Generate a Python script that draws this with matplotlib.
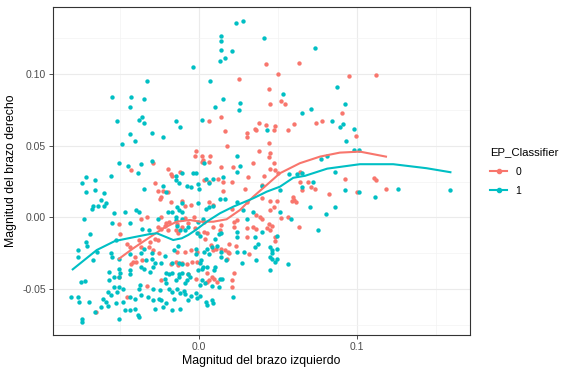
import numpy as np
import matplotlib
matplotlib.use("Agg")
import matplotlib.pyplot as plt
from matplotlib.lines import Line2D
from matplotlib.ticker import MultipleLocator

plt.rcParams['font.family'] = ['Liberation Sans', 'DejaVu Sans']

# puntos clase 0 (rojo): (brazo izquierdo, brazo derecho)
pts_0 = [
    (0.042, 0.107), (0.050, 0.100), (0.025, 0.0965), (0.044, 0.090), (0.045, 0.079),
    (0.014, 0.070), (0.006, 0.067), (0.016, 0.060), (0.030, 0.059), (0.030, 0.056),
    (0.035, 0.062), (0.036, 0.061), (0.038, 0.066), (0.048, 0.064), (0.047, 0.061),
    (0.0175, 0.050), (-0.002, 0.046), (-0.003, 0.043), (0.002, 0.043), (0.0025, 0.040),
    (0.0015, 0.0385), (0.007, 0.043), (0.038, 0.046), (0.044, 0.052), (0.045, 0.045),
    (0.014, 0.035), (0.0215, 0.035), (0.034, 0.038), (0.041, 0.029), (0.045, 0.034),
    (0.050, 0.031), (0.031, 0.028), (0.012, 0.027), (0.006, 0.0245), (0.021, 0.025),
    (-0.012, 0.032), (-0.020, 0.034), (-0.018, 0.0305), (-0.017, 0.029), (-0.028, 0.024),
    (-0.043, 0.033), (-0.029, 0.038), (0.063, 0.108), (0.095, 0.099), (0.112, 0.0995),
    (0.052, 0.081), (0.054, 0.079), (0.060, 0.0655), (0.074, 0.066), (0.0775, 0.067),
    (0.056, 0.061), (0.042, 0.0645), (0.0905, 0.073), (0.099, 0.057), (0.044, 0.042),
    (0.064, 0.0315), (0.092, 0.0266), (0.1106, 0.0277), (0.1117, 0.0261), (0.064, 0.0245),
    (0.069, 0.025), (0.118, 0.0196), (0.100, 0.018), (0.082, 0.016), (0.071, 0.021),
    (0.073, 0.020), (0.065, 0.019), (0.0595, 0.014), (0.060, 0.012), (0.061, 0.0107),
    (0.059, 0.0114), (0.040, 0.0135), (0.0446, 0.0114), (0.049, 0.0114), (0.047, 0.0074),
    (0.052, -0.0003), (0.056, 0.0002), (0.063, -0.0066), (0.0386, 0.000), (0.0395, -0.0014),
    (0.044, -0.005), (0.045, -0.009), (0.043, -0.0077), (0.048, -0.0168), (-0.026, 0.0186),
    (-0.023, 0.0186), (-0.020, 0.0177), (-0.024, 0.0144), (-0.025, 0.0128), (-0.018, 0.011),
    (-0.037, -0.0014), (-0.033, 0.000), (-0.051, -0.0047), (-0.024, 0.000), (-0.021, -0.004),
    (-0.019, -0.003), (-0.011, 0.0116), (0.006, 0.0385), (0.047, 0.038), (0.048, 0.033),
    (0.015, 0.0245), (0.003, 0.026), (0.015, 0.0186), (0.029, 0.020), (0.040, 0.0226),
    (0.006, 0.011), (-0.009, 0.008), (-0.005, 0.0086), (0.009, 0.0088), (0.021, 0.0056),
    (0.030, 0.0105), (0.036, 0.0014), (0.045, 0.005), (-0.009, -0.0007), (-0.0035, 0.000),
    (0.003, -0.003), (0.024, -0.0017), (-0.050, -0.012), (-0.046, -0.019), (-0.044, -0.021),
    (-0.037, -0.021), (-0.032, -0.021), (-0.029, -0.023), (-0.0255, -0.025), (-0.0405, -0.0276),
    (-0.042, -0.0315), (-0.043, -0.033), (-0.040, -0.031), (-0.036, -0.030), (-0.026, -0.0066),
    (-0.024, -0.008), (-0.022, -0.006), (-0.020, -0.009), (-0.0135, -0.011), (-0.015, -0.009),
    (-0.028, -0.015), (-0.026, -0.016), (-0.018, -0.033), (-0.0135, -0.0334), (-0.051, -0.042),
    (-0.033, -0.048), (-0.046, -0.056), (-0.0656, -0.066), (-0.024, -0.044), (-0.031, -0.0175),
    (-0.038, -0.016), (-0.014, -0.0047), (-0.011, -0.0066), (-0.007, -0.0042), (-0.0027, -0.0077),
    (-0.0006, -0.011), (0.003, -0.010), (0.005, -0.011), (0.0036, -0.015), (0.009, -0.007),
    (0.013, -0.009), (0.014, -0.0054), (0.022, -0.003), (0.022, -0.007), (0.030, -0.0077),
    (0.034, -0.007), (0.036, -0.008), (0.046, -0.006), (0.030, -0.0136), (0.019, -0.019),
    (0.023, -0.020), (0.014, -0.022), (0.016, -0.023), (0.018, -0.024), (0.019, -0.025),
    (0.0074, -0.0194), (0.0085, -0.023), (0.0104, -0.022), (0.048, -0.0136), (-0.014, -0.0245),
    (-0.009, -0.024), (-0.0054, -0.023), (-0.0016, -0.024), (0.0315, -0.026), (0.0177, -0.029),
    (-0.015, -0.031), (-0.011, -0.032), (-0.008, -0.033), (-0.0044, -0.031), (-0.0016, -0.031),
    (0.005, -0.039), (0.008, -0.0415), (0.006, -0.044), (0.0047, -0.045), (0.011, -0.045),
    (0.0095, -0.043), (-0.0023, -0.043), (0.022, -0.039), (0.021, -0.044), (0.0205, -0.0485),
    (-0.007, -0.040),
]

# puntos clase 1 (turquesa)
pts_1 = [
    (0.023, 0.136), (0.028, 0.137), (0.014, 0.127), (0.014, 0.123), (0.014, 0.117),
    (0.016, 0.111), (0.013, 0.109), (0.021, 0.116), (0.041, 0.125), (-0.004, 0.105),
    (-0.033, 0.095), (0.007, 0.095), (-0.055, 0.084), (-0.043, 0.084), (-0.035, 0.083),
    (0.015, 0.083), (0.026, 0.080), (0.025, 0.075), (0.010, 0.077), (-0.044, 0.077),
    (-0.052, 0.067), (-0.038, 0.068), (-0.036, 0.070), (-0.035, 0.066), (-0.015, 0.067),
    (-0.012, 0.063), (0.002, 0.068), (-0.044, 0.058), (-0.030, 0.059), (-0.023, 0.056),
    (-0.041, 0.053), (-0.049, 0.051), (0.043, 0.061), (-0.051, 0.038), (-0.045, 0.036),
    (-0.037, 0.037), (-0.030, 0.039), (-0.039, 0.031), (-0.056, 0.029), (-0.004, 0.031),
    (-0.002, 0.031), (0.003, 0.038), (0.024, 0.043), (0.026, 0.036), (0.024, 0.032),
    (0.015, 0.028), (0.009, 0.027), (-0.072, 0.028), (-0.066, 0.026), (-0.074, 0.024),
    (-0.023, 0.022), (-0.008, 0.022), (-0.001, 0.023), (-0.015, 0.029), (-0.015, 0.026),
    (-0.013, 0.024), (0.073, 0.118), (0.087, 0.091), (0.053, 0.086), (0.092, 0.079),
    (0.065, 0.073), (0.071, 0.076), (0.084, 0.067), (0.089, 0.063), (0.091, 0.065),
    (0.098, 0.062), (0.093, 0.053), (0.098, 0.047), (0.101, 0.047), (0.077, 0.041),
    (0.081, 0.043), (0.086, 0.032), (0.057, 0.030), (0.062, 0.030), (0.072, 0.025),
    (0.040, 0.022), (0.159, 0.019), (0.126, 0.020), (0.101, 0.018), (0.092, 0.019),
    (0.111, 0.014), (0.065, 0.021), (0.051, 0.019), (0.070, 0.007), (0.086, 0.007),
    (0.080, 0.002), (0.051, 0.004), (0.058, -0.001), (0.075, -0.009), (0.040, -0.010),
    (0.049, -0.013), (0.045, -0.021), (0.046, -0.023), (0.049, -0.022), (0.045, -0.028),
    (0.046, -0.029), (0.049, -0.029), (0.048, -0.031), (0.045, -0.037), (0.056, -0.033),
    (-0.072, 0.018), (-0.066, 0.019), (-0.060, 0.017), (-0.062, 0.012), (-0.059, 0.010),
    (-0.060, 0.008), (-0.067, 0.008), (-0.064, 0.008), (-0.054, 0.003), (-0.047, 0.004),
    (-0.040, 0.005), (-0.038, 0.004), (-0.035, 0.020), (-0.021, 0.018), (-0.011, 0.031),
    (-0.020, 0.0035), (-0.017, 0.004), (-0.026, -0.001), (-0.073, -0.001), (-0.055, -0.004),
    (-0.044, -0.004), (-0.011, -0.001), (-0.015, 0.000), (-0.014, 0.007), (0.004, 0.027),
    (-0.005, 0.021), (0.000, 0.020), (0.006, 0.024), (0.065, 0.031), (0.013, 0.013),
    (0.016, 0.013), (0.024, 0.011), (-0.001, 0.010), (-0.011, 0.010), (-0.013, 0.005),
    (-0.011, 0.004), (0.004, 0.006), (0.006, 0.007), (0.009, 0.008), (0.028, 0.005),
    (0.034, 0.0035), (0.030, -0.001), (-0.015, -0.002), (0.0025, -0.001), (-0.069, -0.012),
    (-0.072, -0.017), (-0.071, -0.020), (-0.053, -0.016), (-0.036, -0.008), (-0.032, -0.009),
    (-0.077, -0.028), (-0.065, -0.0245), (-0.067, -0.030), (-0.056, -0.025), (-0.055, -0.028),
    (-0.051, -0.029), (-0.075, -0.045), (-0.0725, -0.0446), (-0.057, -0.038), (-0.054, -0.042),
    (-0.057, -0.044), (-0.051, -0.036), (-0.050, -0.039), (-0.051, -0.042), (-0.044, -0.037),
    (-0.044, -0.040), (-0.037, -0.035), (-0.035, -0.036), (-0.031, -0.038), (-0.029, -0.035),
    (-0.028, -0.032), (-0.024, -0.032), (-0.030, -0.025), (-0.030, -0.029), (-0.034, -0.030),
    (-0.044, -0.026), (-0.021, -0.039), (-0.019, -0.040), (-0.017, -0.039), (-0.017, -0.032),
    (-0.013, -0.032), (-0.022, -0.027), (-0.011, -0.039), (-0.054, -0.049), (-0.051, -0.049),
    (-0.048, -0.050), (-0.052, -0.052), (-0.058, -0.052), (-0.056, -0.054), (-0.061, -0.057),
    (-0.059, -0.059), (-0.058, -0.062), (-0.053, -0.060), (-0.048, -0.059), (-0.044, -0.056),
    (-0.041, -0.057), (-0.037, -0.054), (-0.038, -0.050), (-0.0375, -0.047), (-0.0325, -0.0555),
    (-0.029, -0.058), (-0.0255, -0.057), (-0.024, -0.058), (-0.025, -0.051), (-0.029, -0.050),
    (-0.019, -0.050), (-0.0175, -0.052), (-0.016, -0.057), (-0.021, -0.060), (-0.081, -0.0555),
    (-0.077, -0.056), (-0.076, -0.059), (-0.070, -0.059), (-0.062, -0.063), (-0.047, -0.065),
    (-0.044, -0.065), (-0.0405, -0.064), (-0.039, -0.068), (-0.038, -0.070), (-0.051, -0.071),
    (-0.028, -0.064), (-0.023, -0.063), (-0.017, -0.065), (-0.012, -0.064), (-0.074, -0.071),
    (-0.074, -0.073), (-0.021, -0.046), (-0.022, -0.043), (-0.013, -0.042), (-0.015, -0.044),
    (-0.037, -0.025), (-0.035, -0.022), (-0.0135, -0.020), (-0.016, -0.023), (-0.077, -0.023),
    (-0.066, -0.066), (-0.068, 0.006), (-0.014, -0.006), (-0.012, -0.009), (-0.009, -0.009),
    (-0.007, -0.007), (-0.001, -0.003), (-0.0015, -0.011), (0.0006, -0.013), (0.010, -0.015),
    (0.0125, -0.012), (0.014, -0.011), (0.024, -0.010), (0.024, -0.014), (0.035, -0.014),
    (0.037, -0.019), (0.035, -0.021), (0.046, -0.025), (0.036, -0.030), (0.027, -0.032),
    (0.024, -0.0245), (0.0285, -0.024), (0.014, -0.0245), (0.014, -0.028), (0.006, -0.026),
    (0.003, -0.024), (-0.002, -0.022), (-0.002, -0.026), (0.011, -0.020), (0.008, -0.021),
    (0.005, -0.022), (0.017, -0.030), (0.001, -0.030), (0.0004, -0.032), (0.0025, -0.035),
    (0.005, -0.035), (-0.0006, -0.037), (0.002, -0.036), (0.010, -0.035), (0.0095, -0.037),
    (-0.011, -0.033), (-0.013, -0.040), (-0.007, -0.040), (-0.006, -0.0415), (-0.008, -0.044),
    (-0.009, -0.046), (0.0015, -0.044), (0.0036, -0.046), (0.013, -0.043), (0.0145, -0.0431),
    (0.008, -0.048), (0.0125, -0.0485), (0.0004, -0.047), (-0.014, -0.050), (-0.012, -0.053),
    (-0.0095, -0.0515), (-0.009, -0.0536), (-0.005, -0.055), (-0.007, -0.058), (-0.002, -0.053),
    (-0.0016, -0.0566), (0.0004, -0.055), (0.004, -0.059), (0.005, -0.061), (0.008, -0.058),
    (0.0085, -0.060), (0.0215, -0.056),
]

# curvas suavizadas (loess)
smooth_0_x = [-0.0508, -0.0418, -0.0333, -0.0228, -0.0143, -0.0059, 0.0004, 0.0089,
              0.0173, 0.0258, 0.0342, 0.0427, 0.0511, 0.0637, 0.0764, 0.089, 0.1017, 0.1182]
smooth_0_y = [-0.029, -0.0217, -0.0154, -0.0077, -0.0031, -0.0019, -0.0031, -0.0031,
              -0.0014, 0.0051, 0.0144, 0.0226, 0.0308, 0.0378, 0.0424, 0.0452, 0.0459, 0.0424]
smooth_1_x = [-0.0801, -0.0649, -0.0534, -0.0418, -0.0312, -0.0268, -0.0206, -0.0165,
              -0.0111, -0.007, -0.0016, 0.0047, 0.0131, 0.0215, 0.0342, 0.0427, 0.0511,
              0.0595, 0.067, 0.081, 0.1017, 0.1228, 0.1439, 0.159]
smooth_1_y = [-0.0364, -0.0229, -0.0166, -0.014, -0.0117, -0.0112, -0.014, -0.0159,
              -0.0147, -0.0124, -0.0084, -0.0031, 0.0028, 0.0074, 0.0133, 0.0179, 0.0214,
              0.0276, 0.029, 0.034, 0.0371, 0.0371, 0.0343, 0.0315]

col_0 = '#F8766D'
col_1 = '#00BFC4'

fig = plt.figure(figsize=(5.64, 3.72), dpi=100)
ax = fig.add_axes([53 / 564, 1 - 335 / 372, 417 / 564, 328 / 372])

p0 = np.array(pts_0)
p1 = np.array(pts_1)
ax.scatter(p0[:, 0], p0[:, 1], s=10, color=col_0, linewidths=0, zorder=3)
ax.scatter(p1[:, 0], p1[:, 1], s=10, color=col_1, linewidths=0, zorder=3)
ax.plot(smooth_0_x, smooth_0_y, color=col_0, lw=1.5, zorder=4)
ax.plot(smooth_1_x, smooth_1_y, color=col_1, lw=1.5, zorder=4)

ax.set_xlim(-0.0926, 0.1714)
ax.set_ylim(-0.0823, 0.147)
ax.set_xticks([0.0, 0.1])
ax.set_xticklabels(['0.0', '0.1'])
ax.set_yticks([-0.05, 0.0, 0.05, 0.10])
ax.set_yticklabels(['-0.05', '0.00', '0.05', '0.10'])
ax.xaxis.set_minor_locator(MultipleLocator(0.05))
ax.yaxis.set_minor_locator(MultipleLocator(0.025))
ax.grid(True, which='major', color='#EBEBEB', lw=0.8)
ax.grid(True, which='minor', color='#F3F3F3', lw=0.5)
ax.set_axisbelow(True)
ax.tick_params(which='major', length=3, width=0.6, color='#333333',
               labelsize=7.5, labelcolor='#4D4D4D', pad=2)
ax.tick_params(which='minor', length=0)
for sp in ax.spines.values():
    sp.set_color('#333333')
    sp.set_linewidth(0.8)

ax.set_xlabel('Magnitud del brazo izquierdo', fontsize=8.8, labelpad=2)
ax.set_ylabel('Magnitud del brazo derecho', fontsize=8.8, labelpad=4)

handles = [Line2D([], [], color=col_0, lw=1.5, marker='o', markersize=3),
           Line2D([], [], color=col_1, lw=1.5, marker='o', markersize=3)]
fig.legend(handles, ['0', '1'], title='EP_Classifier', loc='upper left',
           bbox_to_anchor=(481 / 564, 1 - 138 / 372), frameon=False,
           fontsize=7.5, title_fontsize=8.2, handlelength=1.6, handletextpad=0.8,
           labelspacing=0.9, alignment='left')

fig.savefig('out.png', dpi=100)
